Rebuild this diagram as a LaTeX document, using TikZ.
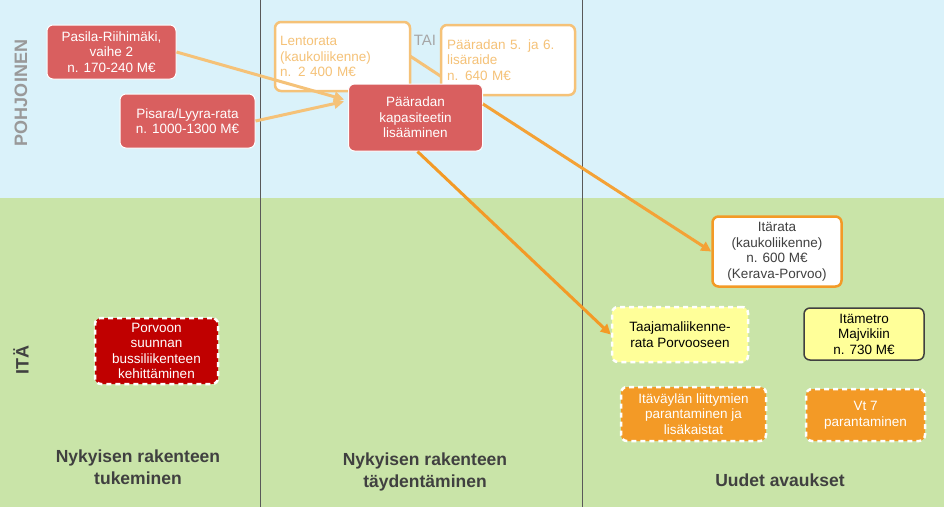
\documentclass[tikz,border=0pt]{standalone}
\usepackage{fontspec}
\setmainfont{Liberation Sans}
\usetikzlibrary{arrows.meta}
\definecolor{skyb}{HTML}{DAF2FA}
\definecolor{grn}{HTML}{C9E4A8}
\definecolor{redb}{HTML}{D95F5F}
\definecolor{dred}{HTML}{C00000}
\definecolor{pale}{HTML}{F5C278}
\definecolor{org}{HTML}{F39A26}
\definecolor{yel}{HTML}{FFFF99}
\definecolor{txg}{HTML}{404040}
\begin{document}
\begin{tikzpicture}[x=1pt,y=-1pt,
 box/.style={rounded corners=6pt,align=center,font=\fontsize{13.5}{15.5}\selectfont,inner sep=0pt},
 redbox/.style={box,fill=redb,draw=white,line width=1pt,text=white},
 palebox/.style={box,fill=white,draw=pale,line width=2.5pt,text=pale,align=left},
 dashbox/.style={box,draw=white,line width=2.5pt,dash pattern=on 5pt off 4pt},
 arr/.style={line width=3pt,-{Triangle[length=10pt,width=10pt]}},
 bot/.style={font=\bfseries\fontsize{17.5}{22}\selectfont,text=txg,align=center}]
\useasboundingbox (0,0) rectangle (944,507);
\fill[skyb] (0,0) rectangle (944,198);
\fill[grn] (0,198) rectangle (944,507);
\draw[gray!70!black,line width=0.6pt] (260,0) -- (260,507) (582,0) -- (582,507);
\node[rotate=90,font=\bfseries\fontsize{18}{18}\selectfont,text=gray!80] (pohj) at (21,93) {POHJOINEN};
\node[rotate=90,font=\bfseries\fontsize{18}{18}\selectfont,text=txg] (ita) at (21,360) {ITÄ};
\node[palebox,minimum width=135pt,minimum height=69pt,text width=125pt] (lento) at (342.5,56.5) {Lentorata\\(kaukoliikenne)\\n. 2 400 M€};
\node[text=gray!70,font=\fontsize{15}{15}\selectfont] (tai) at (425,40) {TAI};
\node[box,minimum width=129pt,minimum height=70pt,fill=white,draw=org,line width=2.5pt,text=txg] (itar) at (777,251.5) {Itärata\\(kaukoliikenne)\\n. 600 M€\\(Kerava-Porvoo)};
\draw[pale,line width=3pt] (410,56) -- (483,104);
\node[palebox,minimum width=134pt,minimum height=70pt,text width=122pt] (p56) at (508,60) {Pääradan 5. ja 6.\\lisäraide\\n. 640 M€};
\node[redbox,minimum width=134pt,minimum height=67pt] (kap) at (415.5,117.5) {Pääradan\\kapasiteetin\\lisääminen};
\draw[org!80!pale,arr] (483,104) -- (itar.west);
\node[redbox,minimum width=129pt,minimum height=54pt] (pas) at (111.5,52) {Pasila-Riihimäki,\\vaihe 2\\n. 170-240 M€};
\node[redbox,minimum width=135pt,minimum height=54pt] (pis) at (187.5,121) {Pisara/Lyyra-rata\\n. 1000-1300 M€};
\draw[pale,arr] (pas.east) -- ([shift={(-4,-18)}]kap.west);
\draw[pale,arr] (pis.east) -- ([shift={(-4,-16)}]kap.west);
\node[dashbox,fill=dred,text=white,minimum width=123pt,minimum height=66pt] (porv) at (156.5,351) {Porvoon\\suunnan\\bussiliikenteen\\kehittäminen};
\node[dashbox,fill=yel,text=black,minimum width=136pt,minimum height=55pt] (taaj) at (680,334.5) {Taajamaliikenne-\\rata Porvooseen};
\draw[org,arr] ([xshift=2pt]kap.south) -- (taaj.west);
\node[box,fill=yel,draw=txg,line width=1.5pt,text=black,minimum width=120pt,minimum height=52pt] (metro) at (864,334) {Itämetro\\Majvikiin\\n. 730 M€};
\node[dashbox,fill=org,text=white,minimum width=145pt,minimum height=54pt] (itav) at (693.5,414) {Itäväylän liittymien\\parantaminen ja\\lisäkaistat};
\node[dashbox,fill=org,text=white,minimum width=119pt,minimum height=52pt] (vt7) at (865.5,415) {Vt 7\\parantaminen};
\node[bot] (b1) at (138,467) {Nykyisen rakenteen\\tukeminen};
\node[bot] (b2) at (425,472) {Nykyisen rakenteen\\täydentäminen};
\node[bot] (b3) at (780,480) {Uudet avaukset};
\end{tikzpicture}
\end{document}
